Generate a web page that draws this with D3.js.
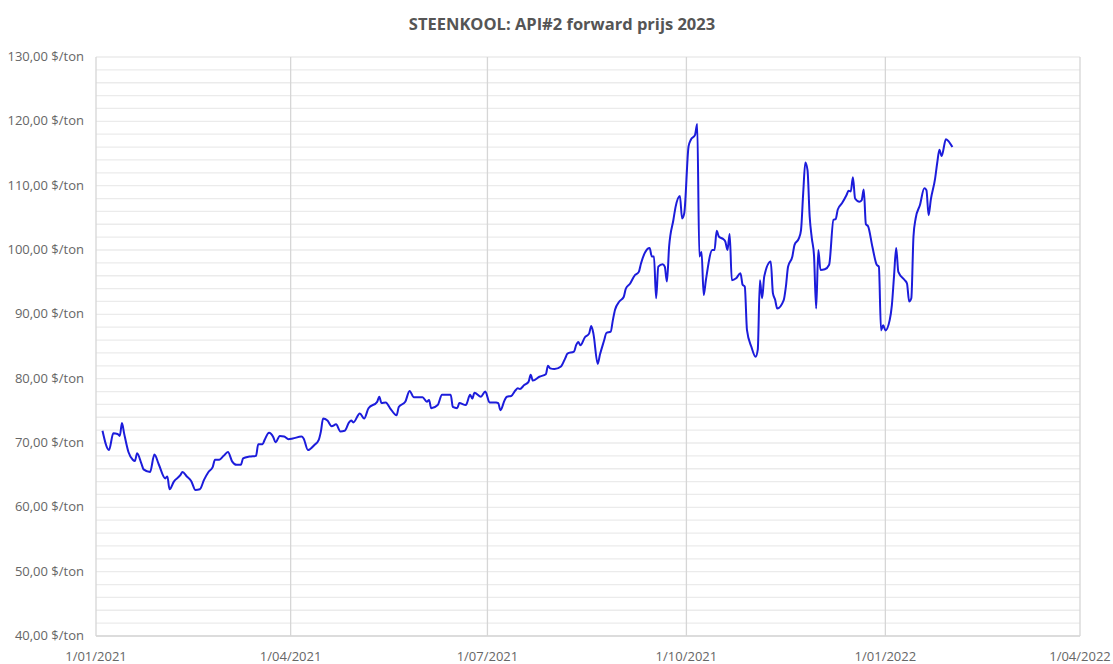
<!DOCTYPE html>
<html>
<head>
<meta charset="utf-8">
<script src="https://cdn.jsdelivr.net/npm/d3@7"></script>
<style>
  body { margin: 0; background: #fff; }
  text { font-family: "Open Sans", "Noto Sans", sans-serif; }
</style>
</head>
<body>
<svg id="chart" width="1113" height="664"></svg>
<script>
const title = 'STEENKOOL: API#2 forward prijs 2023';

const dates = [
  '2021-01-04','2021-01-07','2021-01-09','2021-01-11','2021-01-12','2021-01-13','2021-01-14','2021-01-16',
  '2021-01-18','2021-01-19','2021-01-20','2021-01-22','2021-01-23','2021-01-26','2021-01-28','2021-01-30',
  '2021-02-02','2021-02-03','2021-02-04','2021-02-06','2021-02-09','2021-02-10','2021-02-12','2021-02-14',
  '2021-02-16','2021-02-18','2021-02-20','2021-02-22','2021-02-24','2021-02-25','2021-02-27','2021-03-01',
  '2021-03-03','2021-03-05','2021-03-07','2021-03-09','2021-03-10','2021-03-13','2021-03-16','2021-03-17',
  '2021-03-19','2021-03-20','2021-03-22','2021-03-24','2021-03-25','2021-03-27','2021-03-29','2021-03-31',
  '2021-04-02','2021-04-06','2021-04-07','2021-04-09','2021-04-12','2021-04-14','2021-04-15','2021-04-16',
  '2021-04-18','2021-04-20','2021-04-22','2021-04-24','2021-04-26','2021-04-28','2021-04-29','2021-04-30',
  '2021-05-03','2021-05-05','2021-05-07','2021-05-11','2021-05-12','2021-05-13','2021-05-15','2021-05-17',
  '2021-05-20','2021-05-21','2021-05-24','2021-05-26','2021-05-28','2021-06-01','2021-06-03','2021-06-04',
  '2021-06-05','2021-06-08','2021-06-10','2021-06-14','2021-06-15','2021-06-17','2021-06-18','2021-06-21',
  '2021-06-23','2021-06-24','2021-06-25','2021-06-28','2021-06-30','2021-07-02','2021-07-05','2021-07-06',
  '2021-07-07','2021-07-09','2021-07-10','2021-07-12','2021-07-14','2021-07-15','2021-07-16','2021-07-18',
  '2021-07-20','2021-07-21','2021-07-22','2021-07-25','2021-07-28','2021-07-29','2021-07-30','2021-08-01',
  '2021-08-04','2021-08-06','2021-08-07','2021-08-10','2021-08-11','2021-08-12','2021-08-13','2021-08-15',
  '2021-08-17','2021-08-18','2021-08-19','2021-08-21','2021-08-22','2021-08-24','2021-08-25','2021-08-27',
  '2021-08-28','2021-08-29','2021-08-31','2021-09-02','2021-09-03','2021-09-05','2021-09-07','2021-09-09',
  '2021-09-10','2021-09-12','2021-09-14','2021-09-15','2021-09-16','2021-09-17','2021-09-18','2021-09-20',
  '2021-09-21','2021-09-22','2021-09-23','2021-09-25','2021-09-26','2021-09-28','2021-09-29','2021-09-30',
  '2021-10-02','2021-10-03','2021-10-05','2021-10-06','2021-10-07','2021-10-08','2021-10-09','2021-10-10',
  '2021-10-13','2021-10-14','2021-10-15','2021-10-16','2021-10-18','2021-10-19','2021-10-20','2021-10-21',
  '2021-10-22','2021-10-24','2021-10-26','2021-10-27','2021-10-28','2021-10-29','2021-10-31','2021-11-02',
  '2021-11-03','2021-11-04','2021-11-05','2021-11-06','2021-11-09','2021-11-10','2021-11-11','2021-11-12',
  '2021-11-15','2021-11-16','2021-11-17','2021-11-19','2021-11-20','2021-11-22','2021-11-23','2021-11-24',
  '2021-11-25','2021-11-26','2021-11-27','2021-11-28','2021-11-29','2021-11-30','2021-12-01','2021-12-02',
  '2021-12-04','2021-12-06','2021-12-08','2021-12-09','2021-12-10','2021-12-12','2021-12-14','2021-12-15',
  '2021-12-16','2021-12-17','2021-12-18','2021-12-20','2021-12-21','2021-12-22','2021-12-23','2021-12-24',
  '2021-12-26','2021-12-28','2021-12-29','2021-12-30','2021-12-31','2022-01-01','2022-01-03','2022-01-04',
  '2022-01-05','2022-01-06','2022-01-07','2022-01-10','2022-01-11','2022-01-12','2022-01-13','2022-01-14',
  '2022-01-15','2022-01-17','2022-01-19','2022-01-20','2022-01-21','2022-01-22','2022-01-24','2022-01-25',
  '2022-01-26','2022-01-27','2022-01-29','2022-01-30','2022-02-01'
];

const prices = [
  71.9, 68.9, 71.5, 71.4, 71.1, 73.1, 71.5, 68.6,
  67.4, 67.2, 68.4, 66.8, 65.9, 65.5, 68.2, 66.7,
  64.5, 64.8, 62.8, 64.0, 65.0, 65.5, 64.8, 64.1,
  62.7, 62.8, 64.3, 65.5, 66.3, 67.4, 67.4, 68.0,
  68.6, 67.1, 66.6, 66.6, 67.6, 67.9, 68.0, 69.8,
  69.8, 70.5, 71.6, 70.9, 70.1, 71.1, 71.0, 70.6,
  70.7, 71.0, 70.7, 68.9, 69.7, 70.5, 71.8, 73.8,
  73.5, 72.6, 72.9, 71.8, 71.9, 73.2, 73.5, 73.2,
  74.6, 73.8, 75.4, 76.4, 77.2, 76.2, 76.3, 75.4,
  74.3, 75.6, 76.4, 78.1, 77.1, 77.1, 76.4, 76.7,
  75.4, 75.9, 77.5, 77.5, 75.6, 75.4, 76.2, 75.9,
  77.5, 76.9, 77.8, 77.2, 78.0, 76.3, 76.3, 76.2,
  75.1, 76.7, 77.2, 77.3, 78.2, 78.5, 78.4, 79.0,
  79.5, 80.6, 79.7, 80.3, 80.7, 82.0, 81.6, 81.5,
  81.9, 83.2, 83.9, 84.2, 85.2, 85.7, 85.2, 86.4,
  87.0, 88.2, 87.0, 82.3, 83.7, 86.0, 87.1, 87.3,
  89.1, 90.7, 92.0, 92.7, 94.0, 94.8, 96.0, 96.6,
  97.9, 99.7, 100.3, 99.0, 99.0, 92.5, 97.4, 97.8,
  97.4, 95.1, 100.5, 104.7, 106.7, 108.4, 104.9, 105.7,
  116.1, 117.1, 117.9, 119.6, 99.0, 99.7, 93.0, 95.3,
  100.0, 100.0, 103.0, 102.1, 101.7, 101.3, 100.0, 102.5,
  95.3, 95.6, 96.4, 94.6, 94.3, 87.6, 85.0, 83.4,
  84.5, 95.3, 92.5, 95.9, 98.2, 93.3, 92.3, 90.9,
  92.2, 94.3, 97.4, 99.0, 100.8, 101.8, 103.1, 108.8,
  113.6, 112.4, 105.2, 101.8, 99.2, 90.9, 100.0, 96.9,
  97.0, 97.7, 104.7, 104.8, 106.3, 107.3, 108.5, 109.2,
  109.1, 111.3, 108.0, 107.5, 107.7, 109.4, 104.0, 103.7,
  100.5, 97.7, 97.4, 87.5, 88.3, 87.5, 89.1, 91.4,
  95.9, 100.3, 96.6, 95.3, 94.8, 92.0, 92.5, 102.1,
  104.9, 107.0, 109.6, 109.3, 105.4, 107.8, 111.1, 113.6,
  115.6, 114.6, 117.2, 117.0, 116.0
];

const xTicks = ['2021-01-01','2021-04-01','2021-07-01','2021-10-01','2022-01-01','2022-04-01'];
const yTicks = [40, 50, 60, 70, 80, 90, 100, 110, 120, 130];

const parse = d3.timeParse('%Y-%m-%d');
const data = dates.map((d, i) => ({ date: parse(d), value: prices[i] }));

const svg = d3.select('#chart');
const plotLeft = 96, plotRight = 1080, plotTop = 57, plotBottom = 636;

const x = d3.scaleTime()
  .domain([parse(xTicks[0]), parse(xTicks[xTicks.length - 1])])
  .range([plotLeft, plotRight]);
const y = d3.scaleLinear().domain([40, 130]).range([plotBottom, plotTop]);

const nl = d3.formatLocale({ decimal: ',', thousands: '.', grouping: [3], currency: ['', ''] });
const fmtY = v => nl.format('.2f')(v) + ' $/ton';
const fmtX = d3.timeFormat('%-d/%m/%Y');

// horizontal grid every 2
svg.append('g')
  .selectAll('line')
  .data(d3.range(40, 131, 2))
  .join('line')
  .attr('x1', plotLeft).attr('x2', plotRight)
  .attr('y1', d => y(d)).attr('y2', d => y(d))
  .attr('stroke', '#ebebeb')
  .attr('stroke-width', 1.3);

// vertical quarter lines
svg.append('g')
  .selectAll('line')
  .data(xTicks.map(parse))
  .join('line')
  .attr('x1', d => x(d)).attr('x2', d => x(d))
  .attr('y1', plotTop).attr('y2', plotBottom)
  .attr('stroke', '#d6d6d6')
  .attr('stroke-width', 1.3);

// bottom axis line
svg.append('line')
  .attr('x1', plotLeft).attr('x2', plotRight)
  .attr('y1', plotBottom).attr('y2', plotBottom)
  .attr('stroke', '#d6d6d6').attr('stroke-width', 1.3);

// y labels
svg.append('g')
  .selectAll('text')
  .data(yTicks)
  .join('text')
  .attr('x', 84)
  .attr('y', d => y(d) + 4)
  .attr('text-anchor', 'end')
  .attr('font-size', 13)
  .attr('fill', '#666')
  .text(fmtY);

// x labels
svg.append('g')
  .selectAll('text')
  .data(xTicks.map(parse))
  .join('text')
  .attr('x', d => x(d))
  .attr('y', 661)
  .attr('text-anchor', 'middle')
  .attr('font-size', 13)
  .attr('fill', '#666')
  .text(fmtX);

// line
const line = d3.line()
  .x(d => x(d.date))
  .y(d => y(d.value))
  .curve(d3.curveMonotoneX);

svg.append('path')
  .datum(data)
  .attr('d', line)
  .attr('fill', 'none')
  .attr('stroke', '#1c1cdb')
  .attr('stroke-width', 2)
  .attr('stroke-linejoin', 'round');

// title
svg.append('text')
  .attr('x', 562)
  .attr('y', 30)
  .attr('text-anchor', 'middle')
  .attr('font-size', 16.5)
  .attr('font-weight', 'bold')
  .attr('fill', '#555')
  .text(title);
</script>
</body>
</html>
